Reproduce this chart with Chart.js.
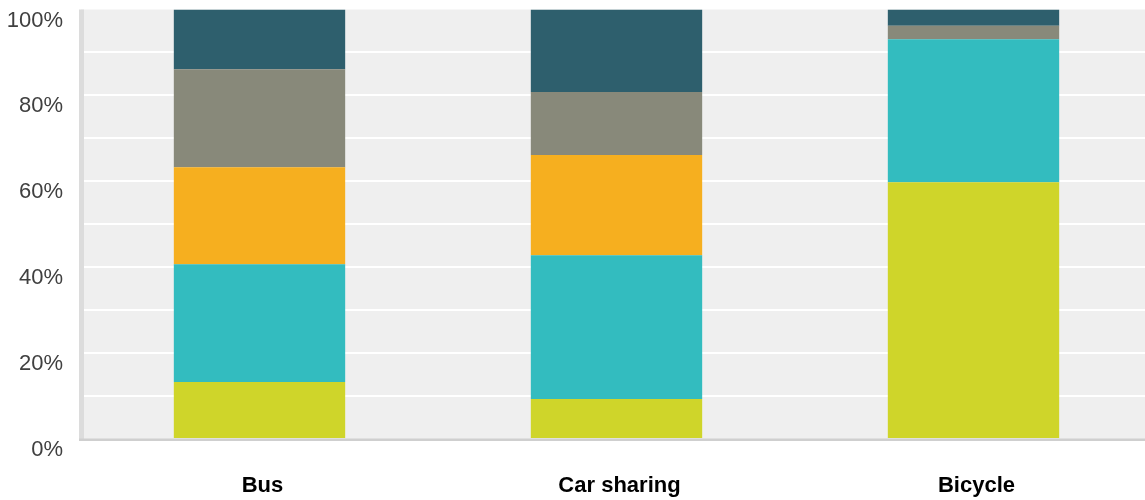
<!DOCTYPE html>
<html>
<head>
<meta charset="utf-8">
<script src="https://cdn.jsdelivr.net/npm/chart.js@4/dist/chart.umd.min.js"></script>
<style>
  html, body { margin: 0; padding: 0; background: #ffffff; overflow: hidden; }
  #wrap { width: 1152px; height: 500px; position: relative; }
</style>
</head>
<body>
<div id="wrap"><canvas id="c"></canvas></div>
<script>
// Transport modes and the share (%) of each segment, bottom to top
const categories = ['Bus', 'Car sharing', 'Bicycle'];
const seriesLime   = [13.3, 9.3, 59.8];
const seriesTeal   = [27.4, 33.5, 33.3];
const seriesOrange = [22.6, 23.3, 0];
const seriesGrey   = [22.8, 14.7, 3.1];
const seriesDark   = [13.9, 19.2, 3.8];
const yTicks = [0, 20, 40, 60, 80, 100];

const colors = {
  lime: '#cfd52a',
  teal: '#33bcbf',
  orange: '#f6af1f',
  grey: '#88897a',
  dark: '#2e5f6d'
};

// Panel background, left band and baseline of the plot area
const panelPlugin = {
  id: 'panel',
  beforeDraw(chart) {
    const { ctx, chartArea: a } = chart;
    ctx.save();
    ctx.fillStyle = '#efefef';
    ctx.fillRect(a.left, a.top, a.right - a.left, a.bottom - a.top);
    ctx.restore();
  },
  afterDatasetsDraw(chart) {
    const { ctx, chartArea: a } = chart;
    ctx.save();
    ctx.fillStyle = '#dcdcdc';
    ctx.fillRect(a.left - 2, a.top, 5, a.bottom - a.top);
    ctx.fillStyle = '#cfcfcf';
    ctx.fillRect(a.left - 2, a.bottom - 0.5, a.right - a.left + 2, 2.5);
    ctx.restore();
  }
};

const mk = (data, color) => ({
  data,
  backgroundColor: color,
  borderWidth: 0,
  barPercentage: 0.48,
  categoryPercentage: 1.0
});

new Chart(document.getElementById('c'), {
  type: 'bar',
  data: {
    labels: categories,
    datasets: [
      mk(seriesLime, colors.lime),
      mk(seriesTeal, colors.teal),
      mk(seriesOrange, colors.orange),
      mk(seriesGrey, colors.grey),
      mk(seriesDark, colors.dark)
    ]
  },
  options: {
    responsive: true,
    maintainAspectRatio: false,
    animation: false,
    layout: { padding: { top: 9.5, right: 0, bottom: 0, left: 0 } },
    plugins: { legend: { display: false }, tooltip: { enabled: false } },
    scales: {
      x: {
        stacked: true,
        grid: { display: false, drawTicks: false },
        border: { display: false },
        ticks: {
          padding: 34,
          labelOffset: 3,
          color: '#000000',
          font: { family: 'Liberation Sans', size: 22, weight: 'bold' }
        },
        afterFit(axis) { axis.height = 61; axis.paddingLeft = 0; axis.paddingRight = 0; }
      },
      y: {
        stacked: true,
        min: 0,
        max: 100,
        border: { display: false },
        grid: {
          drawTicks: false,
          lineWidth: 2,
          color: (c) => (c.tick && (c.tick.value === 0 || c.tick.value === 100)) ? 'rgba(0,0,0,0)' : '#ffffff'
        },
        ticks: {
          stepSize: 10,
          padding: 18,
          labelOffset: 11,
          color: '#404040',
          font: { family: 'Liberation Sans', size: 22 },
          callback: (v) => yTicks.includes(v) ? v + '%' : ''
        },
        afterFit(axis) { axis.width = 81; axis.paddingTop = 0; axis.paddingBottom = 0; }
      }
    }
  },
  plugins: [panelPlugin]
});
</script>
</body>
</html>
